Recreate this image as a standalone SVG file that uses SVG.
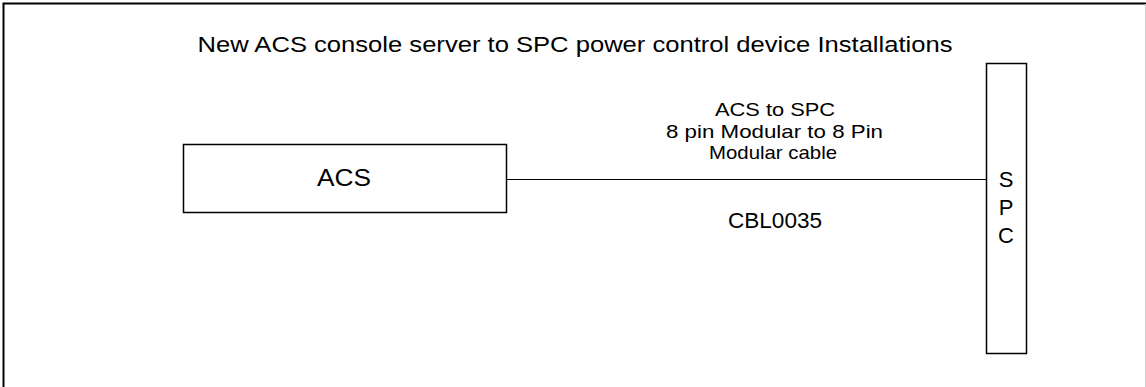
<svg xmlns="http://www.w3.org/2000/svg" width="1146" height="387" viewBox="0 0 1146 387">
<style>
.t{font-family:"Liberation Sans",Arial,sans-serif;fill:#000;text-anchor:middle}
.box{fill:#fff;stroke:#000;stroke-width:1.5}
.ln{stroke:#000;stroke-width:1;fill:none}
</style>
<rect width="1146" height="387" fill="#fff"/>
<g id="frame">
<path d="M3.5,387 V3.5 H1146" fill="none" stroke="#000" stroke-width="2"/>
<line x1="1145.5" y1="4" x2="1145.5" y2="387" stroke="#d0d0d0" stroke-width="1"/>
</g>
<text class="t" x="575" y="52" font-size="22" textLength="755" lengthAdjust="spacingAndGlyphs">New ACS console server to SPC power control device Installations</text>
<g id="connectors">
<line class="ln" x1="507" y1="179.5" x2="986" y2="179.5"/>
<text class="t" x="775" y="116" font-size="19" textLength="120" lengthAdjust="spacingAndGlyphs">ACS to SPC</text>
<text class="t" x="774.5" y="137.5" font-size="19" textLength="217" lengthAdjust="spacingAndGlyphs">8 pin Modular to 8 Pin</text>
<text class="t" x="773" y="159" font-size="19" textLength="128" lengthAdjust="spacingAndGlyphs">Modular cable</text>
<text class="t" x="775" y="227.5" font-size="21.5" textLength="94" lengthAdjust="spacingAndGlyphs">CBL0035</text>
</g>
<g id="acs">
<rect class="box" x="183.5" y="144.5" width="323" height="68"/>
<text class="t" x="344" y="185.5" font-size="24.5" textLength="54" lengthAdjust="spacingAndGlyphs">ACS</text>
</g>
<g id="spc">
<rect class="box" x="986.5" y="63.5" width="40" height="290"/>
<text class="t" x="1006" y="187" font-size="22">S</text>
<text class="t" x="1006" y="215" font-size="22">P</text>
<text class="t" x="1006" y="243" font-size="22">C</text>
</g>
</svg>
